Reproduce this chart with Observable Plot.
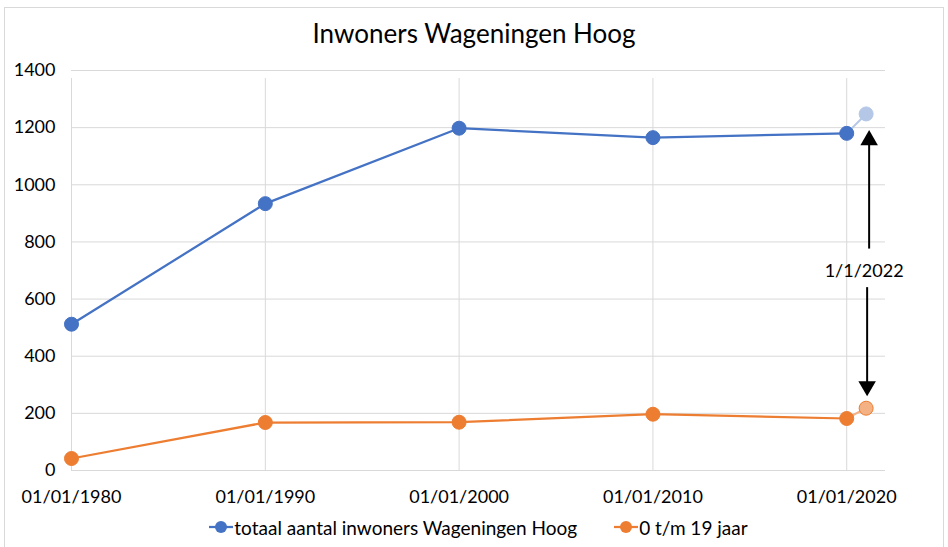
<!DOCTYPE html>
<html>
<head>
<meta charset="utf-8">
<script src="https://cdn.jsdelivr.net/npm/d3@7"></script>
<script src="https://cdn.jsdelivr.net/npm/@observablehq/plot@0.6"></script>
<style>
  html, body { margin: 0; padding: 0; background: #fff; }
  body { width: 948px; height: 547px; position: relative; overflow: hidden; font-family: Lato, "Open Sans", sans-serif; }
  #frame { position: absolute; left: 4px; top: 7px; width: 940px; height: 560px; border: 1px solid #d9d9d9; box-sizing: border-box; }
  #title { position: absolute; left: 0; top: 17px; width: 948px; text-align: center; font-size: 26px; color: #000; }
  #chart { position: absolute; left: 0; top: 55px; }
  #legend { position: absolute; left: 0; top: 514px; width: 948px; height: 26px; display: flex; justify-content: center; align-items: center; font-size: 19px; color: #000; gap: 36px; padding-left: 8px; box-sizing: border-box; }
  .item { display: flex; align-items: center; }
</style>
</head>
<body>
<div id="frame"></div>
<div id="title">Inwoners Wageningen Hoog</div>
<div id="chart"></div>
<div id="legend"></div>
<script>
const dates = ["1980-01-01", "1990-01-01", "2000-01-01", "2010-01-01", "2020-01-01"];
const totaal = [512, 934, 1198, 1165, 1180];
const jong = [42, 168, 169, 197, 182];
const extraDate = "2021-01-01";
const extraTotaal = 1248;
const extraJong = 218;
const seriesNames = ["totaal aantal inwoners Wageningen Hoog", "0 t/m 19 jaar"];
const colors = ["#4472C4", "#ED7D31"];
const lightColors = ["#B4C7E7", "#F4B183"];
const yTicks = [0, 200, 400, 600, 800, 1000, 1200, 1400];
const xTicks = ["1980-01-01", "1990-01-01", "2000-01-01", "2010-01-01", "2020-01-01"];
const annotation = "1/1/2022";

const parse = d3.utcParse("%Y-%m-%d");
const fmt = d3.utcFormat("%d/%m/%Y");
const tot = dates.map((d, i) => ({x: parse(d), y: totaal[i]}));
const yng = dates.map((d, i) => ({x: parse(d), y: jong[i]}));
const ex = parse(extraDate);
const totExt = [tot[tot.length - 1], {x: ex, y: extraTotaal}];
const yngExt = [yng[yng.length - 1], {x: ex, y: extraJong}];

const chart = Plot.plot({
  width: 948,
  height: 465,
  marginLeft: 71,
  marginRight: 63,
  marginTop: 15,
  marginBottom: 50,
  style: {fontFamily: "Lato, 'Open Sans', sans-serif", fontSize: "18px", color: "#000", background: "transparent"},
  x: {type: "utc", domain: [parse("1980-01-01"), parse("2022-01-01")], label: null},
  y: {domain: [0, 1400], label: null},
  marks: [
    Plot.ruleY(yTicks, {stroke: "#d9d9d9", strokeWidth: 1}),
    Plot.ruleX(xTicks.map(parse), {y1: 0, y2: 1400, stroke: "#d9d9d9", strokeWidth: 1, insetBottom: -8}),
    Plot.axisX({ticks: xTicks.map(parse), tickFormat: fmt, tickSize: 0, tickPadding: 20, fontSize: 18}),
    Plot.axisY({ticks: yTicks, tickFormat: d => String(d), tickSize: 0, tickPadding: 16, fontSize: 18}),
    Plot.line(totExt, {x: "x", y: "y", stroke: lightColors[0], strokeWidth: 2}),
    Plot.line(yngExt, {x: "x", y: "y", stroke: lightColors[1], strokeWidth: 2}),
    Plot.line(tot, {x: "x", y: "y", stroke: colors[0], strokeWidth: 2.25}),
    Plot.line(yng, {x: "x", y: "y", stroke: colors[1], strokeWidth: 2.25}),
    Plot.dot(tot, {x: "x", y: "y", r: 7, fill: colors[0], stroke: colors[0], strokeWidth: 1}),
    Plot.dot(yng, {x: "x", y: "y", r: 7, fill: colors[1], stroke: colors[1], strokeWidth: 1}),
    Plot.dot([{x: ex, y: extraTotaal}], {x: "x", y: "y", r: 7, fill: lightColors[0], stroke: lightColors[0], strokeWidth: 1}),
    Plot.dot([{x: ex, y: extraJong}], {x: "x", y: "y", r: 7, fill: lightColors[1], stroke: colors[1], strokeWidth: 1}),
    // arrow shafts
    Plot.ruleX([{x: ex, y1: 775, y2: 1150}], {x: "x", y1: "y1", y2: "y2", stroke: "#000", strokeWidth: 2, dx: 3}),
    Plot.ruleX([{x: ex, y1: 640, y2: 300}], {x: "x", y1: "y1", y2: "y2", stroke: "#000", strokeWidth: 2, dx: 1}),
    // filled arrowheads
    Plot.dot([{x: ex, y: 1156}], {x: "x", y: "y", symbol: "triangle", r: 6.5, fill: "#000", dx: 3, rotate: 0}),
    Plot.dot([{x: ex, y: 295}], {x: "x", y: "y", symbol: "triangle", r: 6.5, fill: "#000", dx: 1, rotate: 180}),
    Plot.text([{x: ex, y: 697}], {x: "x", y: "y", text: () => annotation, fontSize: 18, fill: "#000", dx: -2})
  ]
});
document.getElementById("chart").appendChild(chart);

const legend = document.getElementById("legend");
seriesNames.forEach((name, i) => {
  const item = document.createElement("div");
  item.className = "item";
  item.innerHTML = `<svg width="26" height="16"><line x1="1" y1="8" x2="25" y2="8" stroke="${colors[i]}" stroke-width="2.25"/><circle cx="13" cy="8" r="6" fill="${colors[i]}"/></svg><span>${name}</span>`;
  legend.appendChild(item);
});
</script>
</body>
</html>
